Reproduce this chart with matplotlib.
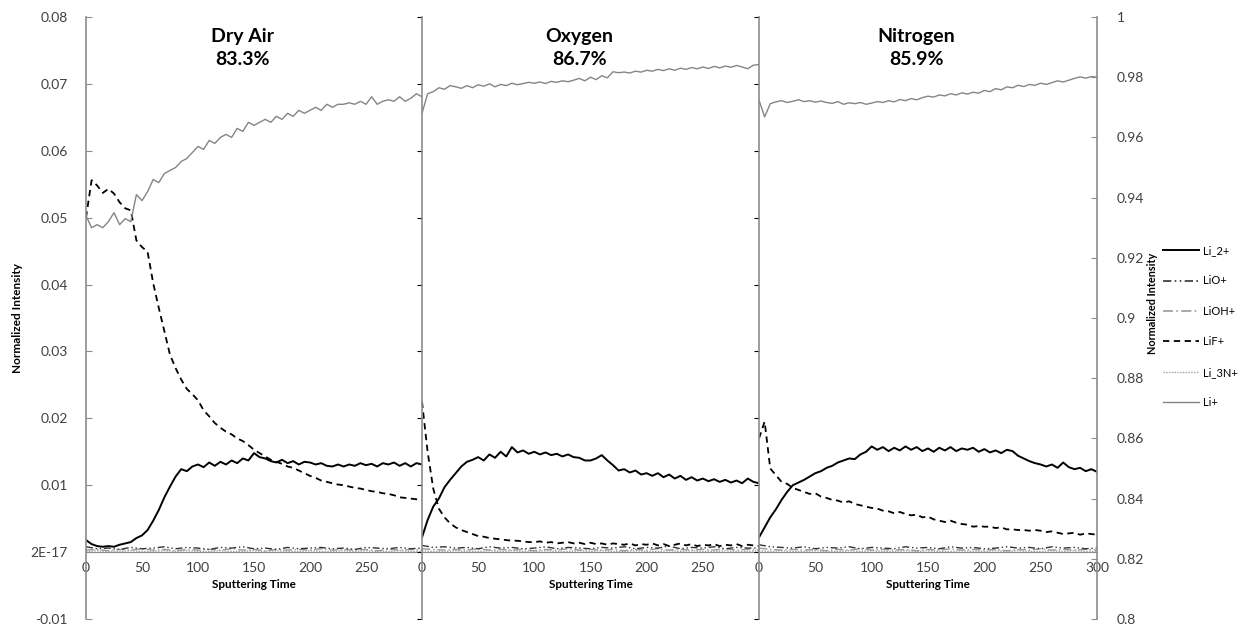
import numpy as np
from matplotlib import pyplot as plt
from matplotlib.lines import Line2D

plt.rcParams['font.family'] = ['Lato', 'DejaVu Sans']

# Sampling times (s) for each panel
t_main = np.arange(0, 301, 5)
t_minor = np.arange(0, 301, 10)

panel_titles = ['Dry Air\n83.3%', 'Oxygen\n86.7%', 'Nitrogen\n85.9%']
left_ticks = [-0.01, 0.0, 0.01, 0.02, 0.03, 0.04, 0.05, 0.06, 0.07, 0.08]
left_tick_labels = ['-0.01', '2E-17', '0.01', '0.02', '0.03', '0.04', '0.05', '0.06', '0.07', '0.08']
right_ticks = [0.8, 0.82, 0.84, 0.86, 0.88, 0.9, 0.92, 0.94, 0.96, 0.98, 1.0]
right_tick_labels = ['0.8', '0.82', '0.84', '0.86', '0.88', '0.9', '0.92', '0.94', '0.96', '0.98', '1']

# Li+ (right axis)
li_air = [0.934, 0.930, 0.931, 0.930, 0.932, 0.935, 0.931, 0.933, 0.932, 0.941, 0.939,
          0.942, 0.946, 0.945, 0.948, 0.949, 0.950, 0.952, 0.953, 0.955, 0.957, 0.956,
          0.959, 0.958, 0.960, 0.961, 0.960, 0.963, 0.962, 0.965, 0.964, 0.965, 0.966,
          0.965, 0.967, 0.966, 0.968, 0.967, 0.969, 0.968, 0.969, 0.970, 0.969, 0.971,
          0.970, 0.971, 0.971, 0.9715, 0.971, 0.972, 0.971, 0.9735, 0.971, 0.972, 0.9725,
          0.972, 0.9735, 0.972, 0.973, 0.9745, 0.9735]
li_oxy = [0.968, 0.9745, 0.9752, 0.9765, 0.9760, 0.9772, 0.9768, 0.9763, 0.9772, 0.9765, 0.9775,
          0.9770, 0.9778, 0.9768, 0.9776, 0.9772, 0.9780, 0.9775, 0.9779, 0.9783, 0.9780, 0.9784,
          0.9779, 0.9786, 0.9783, 0.9788, 0.9785, 0.9790, 0.9796, 0.9788, 0.9800, 0.9792, 0.9805,
          0.9798, 0.9818, 0.9815, 0.9817, 0.9814, 0.9820, 0.9817, 0.9823, 0.9820, 0.9826, 0.9822,
          0.9828, 0.9823, 0.9830, 0.9826, 0.9832, 0.9828, 0.9834, 0.9829, 0.9836, 0.9831, 0.9837,
          0.9833, 0.9839, 0.9834, 0.9828, 0.9840, 0.9842]
li_nit = [0.9724, 0.9668, 0.9712, 0.9718, 0.9722, 0.9716, 0.9720, 0.9725, 0.9719, 0.9722, 0.9717,
          0.9721, 0.9716, 0.9713, 0.9719, 0.9710, 0.9715, 0.9712, 0.9716, 0.9710, 0.9714, 0.9719,
          0.9716, 0.9722, 0.9718, 0.9726, 0.9722, 0.9729, 0.9725, 0.9732, 0.9737, 0.9734, 0.9741,
          0.9738, 0.9745, 0.9741, 0.9748, 0.9744, 0.9750, 0.9747, 0.9756, 0.9752, 0.9762, 0.9758,
          0.9768, 0.9765, 0.9773, 0.9769, 0.9776, 0.9773, 0.9780, 0.9776, 0.9782, 0.9788, 0.9784,
          0.9790, 0.9796, 0.9801, 0.9797, 0.9802, 0.9800]

# Li_2+
li2_air = [0.0018, 0.0012, 0.0009, 0.0008, 0.0009, 0.0008, 0.0011, 0.0013, 0.0015, 0.0021, 0.0025,
           0.0033, 0.0047, 0.0063, 0.0082, 0.0098, 0.0113, 0.0124, 0.0121, 0.0128, 0.0131, 0.0127,
           0.0134, 0.0129, 0.0135, 0.0131, 0.0137, 0.0133, 0.0140, 0.0137, 0.0148, 0.0142, 0.0140,
           0.0136, 0.0134, 0.0138, 0.0133, 0.0136, 0.0131, 0.0135, 0.0134, 0.0131, 0.0133, 0.0129,
           0.0128, 0.0131, 0.0128, 0.0131, 0.0129, 0.0133, 0.0130, 0.0132, 0.0128, 0.0133, 0.0131,
           0.0134, 0.0129, 0.0133, 0.0128, 0.0133, 0.0131]
li2_oxy = [0.0022, 0.0048, 0.0068, 0.0080, 0.0097, 0.0108, 0.0118, 0.0128, 0.0135, 0.0138, 0.0142,
           0.0137, 0.0146, 0.0141, 0.0150, 0.0143, 0.0157, 0.0149, 0.0152, 0.0147, 0.0150, 0.0146,
           0.0149, 0.0145, 0.0147, 0.0143, 0.0146, 0.0142, 0.0141, 0.0137, 0.0137, 0.0140, 0.0145,
           0.0137, 0.0130, 0.0122, 0.0124, 0.0119, 0.0122, 0.0116, 0.0118, 0.0114, 0.0118, 0.0112,
           0.0116, 0.0110, 0.0114, 0.0108, 0.0112, 0.0107, 0.0110, 0.0106, 0.0109, 0.0105, 0.0108,
           0.0104, 0.0107, 0.0103, 0.0110, 0.0105, 0.0103]
li2_nit = [0.0022, 0.0037, 0.0052, 0.0064, 0.0078, 0.0090, 0.0100, 0.0104, 0.0108, 0.0113, 0.0118,
           0.0121, 0.0126, 0.0129, 0.0134, 0.0137, 0.0140, 0.0139, 0.0146, 0.0150, 0.0158, 0.0153,
           0.0157, 0.0151, 0.0156, 0.0152, 0.0158, 0.0153, 0.0157, 0.0151, 0.0155, 0.0150, 0.0156,
           0.0152, 0.0157, 0.0151, 0.0155, 0.0153, 0.0156, 0.0150, 0.0154, 0.0149, 0.0152, 0.0148,
           0.0153, 0.0151, 0.0144, 0.0140, 0.0136, 0.0133, 0.0131, 0.0128, 0.0131, 0.0126, 0.0134,
           0.0127, 0.0124, 0.0126, 0.0121, 0.0124, 0.0120]

# LiF+
lif_air = [0.0500, 0.0556, 0.0548, 0.0537, 0.0543, 0.0536, 0.0523, 0.0514, 0.0511, 0.0466, 0.0456,
           0.0449, 0.0402, 0.0365, 0.0330, 0.0295, 0.0275, 0.0258, 0.0244, 0.0236, 0.0227, 0.0212,
           0.0203, 0.0193, 0.0186, 0.0180, 0.0176, 0.0170, 0.0166, 0.0160, 0.0153, 0.0148, 0.0143,
           0.0138, 0.0135, 0.0132, 0.0128, 0.0126, 0.0122, 0.0118, 0.0114, 0.0111, 0.0107, 0.0105,
           0.0103, 0.0101, 0.0100, 0.0098, 0.0096, 0.0095, 0.0093, 0.0091, 0.0090, 0.0088, 0.0087,
           0.0085, 0.0082, 0.0081, 0.0080, 0.0079, 0.0078]
lif_oxy = [0.0225, 0.0150, 0.0095, 0.0065, 0.0052, 0.0043, 0.0037, 0.0033, 0.0030, 0.0027, 0.0024,
           0.0023, 0.0021, 0.0020, 0.0019, 0.0018, 0.0017, 0.0017, 0.0016, 0.0015, 0.0015, 0.0016,
           0.0014, 0.0015, 0.0013, 0.0014, 0.0015, 0.0013, 0.0014, 0.0012, 0.0014, 0.0012, 0.0013,
           0.0011, 0.0013, 0.0012, 0.0011, 0.0013, 0.0010, 0.0012, 0.0011, 0.0013, 0.0010, 0.0012,
           0.0009, 0.0011, 0.0013, 0.0010, 0.0012, 0.0009, 0.0011, 0.0010, 0.0012, 0.0009, 0.0011,
           0.0010, 0.0012, 0.0009, 0.0011, 0.0010, 0.0009]
lif_nit = [0.0170, 0.0195, 0.0125, 0.0115, 0.0105, 0.0102, 0.0096, 0.0093, 0.0090, 0.0087, 0.0088,
           0.0083, 0.0081, 0.0078, 0.0077, 0.0074, 0.0076, 0.0072, 0.0070, 0.0068, 0.0066, 0.0065,
           0.0062, 0.0061, 0.0058, 0.0060, 0.0057, 0.0055, 0.0056, 0.0052, 0.0053, 0.0049, 0.0047,
           0.0045, 0.0047, 0.0044, 0.0042, 0.0041, 0.0038, 0.0039, 0.0038, 0.0038, 0.0036, 0.0037,
           0.0034, 0.0034, 0.0033, 0.0033, 0.0032, 0.0033, 0.0032, 0.0030, 0.0031, 0.0029, 0.0027,
           0.0028, 0.0029, 0.0026, 0.0028, 0.0027, 0.0026]

# Minor species (near zero)
lio_air = [0.0008, 0.0005, 0.0006, 0.0004, 0.0007, 0.0005, 0.0006, 0.0008, 0.0005, 0.0007, 0.0006,
           0.0004, 0.0007, 0.0006, 0.0008, 0.0005, 0.0006, 0.0004, 0.0007, 0.0005, 0.0006, 0.0007,
           0.0005, 0.0006, 0.0004, 0.0007, 0.0006, 0.0005, 0.0007, 0.0005, 0.0006]
lio_oxy = [0.0010, 0.0007, 0.0008, 0.0006, 0.0007, 0.0005, 0.0008, 0.0006, 0.0007, 0.0005, 0.0006,
           0.0008, 0.0005, 0.0007, 0.0006, 0.0005, 0.0007, 0.0006, 0.0008, 0.0005, 0.0007, 0.0006,
           0.0009, 0.0005, 0.0007, 0.0006, 0.0008, 0.0005, 0.0007, 0.0006, 0.0006]
lio_nit = [0.0011, 0.0008, 0.0007, 0.0006, 0.0008, 0.0005, 0.0007, 0.0006, 0.0008, 0.0005, 0.0007,
           0.0006, 0.0005, 0.0008, 0.0006, 0.0007, 0.0005, 0.0008, 0.0006, 0.0007, 0.0005, 0.0006,
           0.0008, 0.0006, 0.0007, 0.0005, 0.0008, 0.0006, 0.0007, 0.0005, 0.0006]
lioh_air = [0.0003, 0.0004, 0.0002, 0.0004, 0.0003, 0.0005, 0.0003, 0.0004, 0.0002, 0.0004, 0.0003,
            0.0004, 0.0003, 0.0005, 0.0003, 0.0004, 0.0002, 0.0004, 0.0003, 0.0004, 0.0003, 0.0005,
            0.0003, 0.0004, 0.0003, 0.0004, 0.0002, 0.0004, 0.0003, 0.0004, 0.0003]
lioh_oxy = [0.0005, 0.0004, 0.0003, 0.0004, 0.0003, 0.0005, 0.0003, 0.0004, 0.0003, 0.0004, 0.0002,
            0.0004, 0.0003, 0.0005, 0.0003, 0.0004, 0.0003, 0.0004, 0.0002, 0.0004, 0.0003, 0.0005,
            0.0003, 0.0004, 0.0003, 0.0004, 0.0003, 0.0005, 0.0003, 0.0004, 0.0003]
lioh_nit = [0.0006, 0.0004, 0.0003, 0.0004, 0.0003, 0.0004, 0.0002, 0.0004, 0.0003, 0.0005, 0.0003,
            0.0004, 0.0003, 0.0004, 0.0002, 0.0004, 0.0003, 0.0005, 0.0003, 0.0004, 0.0003, 0.0004,
            0.0002, 0.0004, 0.0003, 0.0005, 0.0003, 0.0004, 0.0003, 0.0004, 0.0003]
li3n_air = [0.0001, 0.0002, 0.0001, 0.0001, 0.0002, 0.0001, 0.0001, 0.0002, 0.0001, 0.0002, 0.0001,
            0.0001, 0.0002, 0.0001, 0.0001, 0.0002, 0.0001, 0.0002, 0.0001, 0.0001, 0.0002, 0.0001,
            0.0001, 0.0002, 0.0001, 0.0002, 0.0001, 0.0001, 0.0002, 0.0001, 0.0001]
li3n_oxy = [0.0002, 0.0001, 0.0001, 0.0002, 0.0001, 0.0001, 0.0002, 0.0001, 0.0002, 0.0001, 0.0001,
            0.0002, 0.0001, 0.0001, 0.0002, 0.0001, 0.0002, 0.0001, 0.0001, 0.0002, 0.0001, 0.0001,
            0.0002, 0.0001, 0.0002, 0.0001, 0.0001, 0.0002, 0.0001, 0.0001, 0.0002]
li3n_nit = [0.0002, 0.0001, 0.0002, 0.0001, 0.0001, 0.0002, 0.0001, 0.0001, 0.0002, 0.0001, 0.0002,
            0.0001, 0.0001, 0.0002, 0.0001, 0.0002, 0.0001, 0.0001, 0.0002, 0.0001, 0.0001, 0.0002,
            0.0001, 0.0002, 0.0001, 0.0001, 0.0002, 0.0001, 0.0002, 0.0001, 0.0001]

li_all = [li_air, li_oxy, li_nit]
li2_all = [li2_air, li2_oxy, li2_nit]
lif_all = [lif_air, lif_oxy, lif_nit]
lio_all = [lio_air, lio_oxy, lio_nit]
lioh_all = [lioh_air, lioh_oxy, lioh_nit]
li3n_all = [li3n_air, li3n_oxy, li3n_nit]

axis_gray = '#8c8c8c'
tick_col = '#404040'

fig = plt.figure(figsize=(12.48, 6.31), dpi=100)

# panel edges in pixels
edges = [86, 422, 759, 1097]
W, H = 1248, 631
bottom, height = 12 / H, 602 / H

for i in range(3):
    ax = fig.add_axes([edges[i] / W, bottom, (edges[i + 1] - edges[i]) / W, height])
    ax.patch.set_alpha(0)
    ax.set_xlim(0, 300)
    ax.set_ylim(-0.01, 0.08)

    ax.plot(t_minor, li3n_all[i], color='#a0a0a0', lw=1.0, ls=(0, (1, 1)))
    ax.plot(t_minor, lioh_all[i], color='#9a9a9a', lw=1.0, ls=(0, (6, 2, 1, 2)))
    ax.plot(t_minor, lio_all[i], color='#333333', lw=1.0, ls=(0, (5, 2, 1, 2, 1, 2)))
    ax.plot(t_main, lif_all[i], color='black', lw=1.3, ls=(0, (3.5, 2.5)))
    ax.plot(t_main, li2_all[i], color='black', lw=1.4)

    for s in ['top', 'right']:
        ax.spines[s].set_visible(False)
    ax.spines['left'].set_color(axis_gray)
    ax.spines['left'].set_linewidth(1.2)
    ax.spines['bottom'].set_position(('data', 0))
    ax.spines['bottom'].set_color(axis_gray)

    if i == 2:
        ax.set_xticks([0, 50, 100, 150, 200, 250, 300])
    else:
        ax.set_xticks([0, 50, 100, 150, 200, 250])
    ax.tick_params(axis='x', length=0, pad=7, labelsize=10, labelcolor=tick_col)
    ax.set_xlabel('Sputtering Time', fontsize=8.5, fontweight='bold', labelpad=4)

    if i == 0:
        ax.set_yticks(left_ticks)
        ax.set_yticklabels(left_tick_labels)
        ax.tick_params(axis='y', direction='in', length=4, color=axis_gray,
                       pad=13, labelsize=10, labelcolor=tick_col)
    else:
        ax.tick_params(axis='y', left=False, labelleft=False)

    ax.text(140, 0.0754, panel_titles[i], ha='center', va='center',
            fontsize=14, fontweight='bold', linespacing=1.45)

    # Li+ on secondary axis
    ax2 = ax.twinx()
    ax2.set_ylim(0.8, 1.0)
    ax2.set_xlim(0, 300)
    ax2.plot(t_main, li_all[i], color='#858585', lw=1.0)
    for s in ['top', 'left', 'bottom', 'right']:
        ax2.spines[s].set_visible(False)
    if i == 2:
        ax2.spines['right'].set_visible(True)
        ax2.spines['right'].set_color(axis_gray)
        ax2.spines['right'].set_linewidth(1.2)
        ax2.set_yticks(right_ticks)
        ax2.set_yticklabels(right_tick_labels)
        ax2.tick_params(axis='y', direction='in', length=4, color=axis_gray,
                        pad=14, labelsize=10, labelcolor=tick_col)
    else:
        ax2.tick_params(axis='y', right=False, labelright=False)

fig.text(18 / W, (H - 318) / H, 'Normalized Intensity', rotation=90,
         ha='center', va='center', fontsize=8.5, fontweight='bold')
fig.text(1153 / W, (H - 303) / H, 'Normalized Intensity', rotation=90,
         ha='center', va='center', fontsize=7.8, fontweight='bold')

handles = [
    Line2D([], [], color='black', lw=1.4),
    Line2D([], [], color='#333333', lw=1.2, ls=(0, (5, 2, 1, 2, 1, 2))),
    Line2D([], [], color='#9a9a9a', lw=1.2, ls=(0, (6, 2, 1, 2))),
    Line2D([], [], color='black', lw=1.3, ls=(0, (3.5, 2.5))),
    Line2D([], [], color='#a0a0a0', lw=1.0, ls=(0, (1, 1))),
    Line2D([], [], color='#858585', lw=1.0),
]
labels = ['Li_2+', 'LiO+', 'LiOH+', 'LiF+', 'Li_3N+', 'Li+']
fig.legend(handles, labels, loc='upper left', bbox_to_anchor=(1163 / W, (H - 245) / H),
           frameon=False, fontsize=8, handlelength=3.2, handletextpad=0.4,
           labelspacing=1.75, borderpad=0, borderaxespad=0)

fig.savefig('out.png', dpi=100)
